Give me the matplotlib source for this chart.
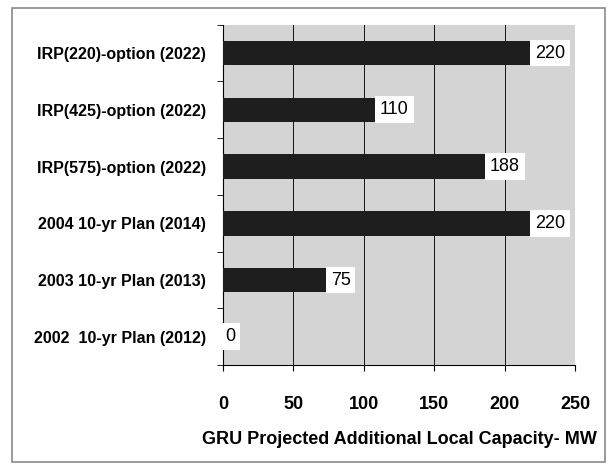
import matplotlib.pyplot as plt
from matplotlib.patches import Rectangle
from matplotlib.ticker import MultipleLocator

plt.rcParams["font.family"] = ["Liberation Sans Narrow", "Liberation Sans", "DejaVu Sans"]

categories = [
    "2002  10-yr Plan (2012)",
    "2003 10-yr Plan (2013)",
    "2004 10-yr Plan (2014)",
    "IRP(575)-option (2022)",
    "IRP(425)-option (2022)",
    "IRP(220)-option (2022)",
]
values = [0, 75, 220, 188, 110, 220]
xticks = [0, 50, 100, 150, 200, 250]

fig = plt.figure(figsize=(6.11, 4.67), dpi=100)
fig.set_facecolor("white")
ax = fig.add_axes([0.365, 0.218, 0.576, 0.729])
ax.set_facecolor("#d4d4d4")

# outer frame of the scanned chart
fig.patches.append(Rectangle((0.02, 0.01), 0.97, 0.973, transform=fig.transFigure,
                             fill=False, edgecolor="#8a8a8a", linewidth=1.2))

ypos = range(len(categories))
ax.barh(ypos, values, height=0.43, color="#1e1e1e", zorder=3)
for y, v in zip(ypos, values):
    ax.text(v + 1.5, y, str(v), va="center", ha="left", fontsize=13,
            bbox=dict(facecolor="white", edgecolor="none", pad=3.5), zorder=4)

ax.set_xlim(0, 250)
ax.set_ylim(-0.5, len(categories) - 0.5)
ax.set_xticks(xticks)
ax.set_xticklabels([str(t) for t in xticks], fontsize=13, fontweight="bold")
ax.set_yticks(list(ypos))
ax.set_yticklabels(categories, fontsize=11.5, fontweight="bold")
ax.yaxis.set_minor_locator(MultipleLocator(1, offset=0.5))
ax.tick_params(axis="y", which="major", length=0, pad=12)
ax.tick_params(axis="y", which="minor", length=4, direction="out")
ax.tick_params(axis="x", length=4, pad=18)
ax.grid(axis="x", color="#111111", linewidth=0.7, zorder=1)
for s in ["top", "right"]:
    ax.spines[s].set_visible(False)
ax.spines["left"].set_linewidth(0.8)
ax.spines["bottom"].set_linewidth(0.8)
ax.set_xlabel("GRU Projected Additional Local Capacity- MW", fontsize=13,
              fontweight="bold", labelpad=13)

fig.savefig("out.png", dpi=100)
